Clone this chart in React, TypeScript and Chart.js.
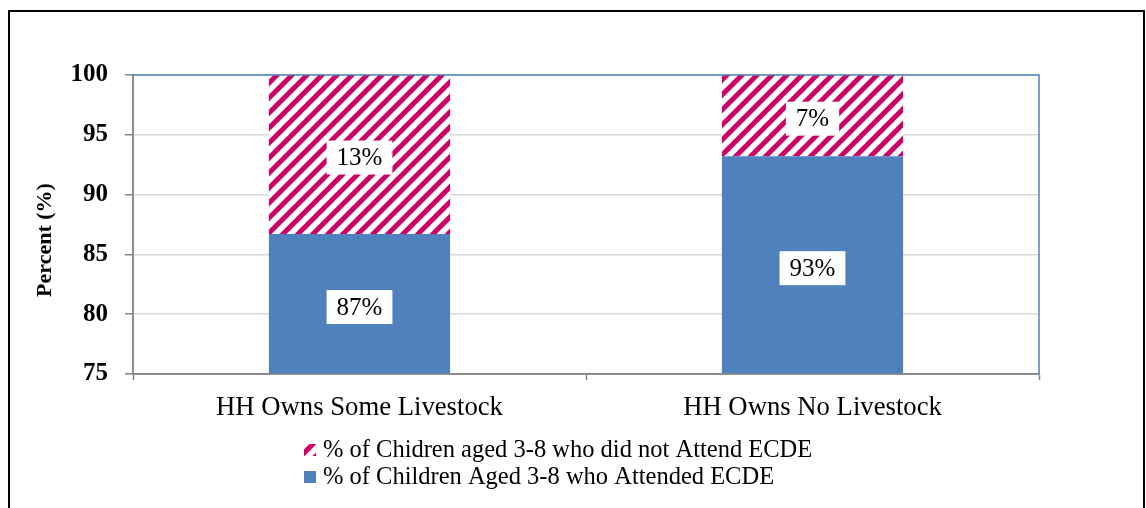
import React, { useEffect, useRef } from "react";
import { Chart, registerables } from "chart.js";

Chart.register(...registerables);

// ---- data ----
const categories = ["HH Owns Some Livestock", "HH Owns No Livestock"];
const attendedValues = [86.7, 93.2];
const notAttendedValues = [13.3, 6.8];
const attendedLabels = ["87%", "93%"];
const notAttendedLabels = ["13%", "7%"];
const attendedName = "% of Children Aged 3-8 who Attended ECDE";
const notAttendedName = "% of Chidren aged 3-8 who did not Attend ECDE";
const yTicks = [75, 80, 85, 90, 95, 100];
const yTitle = "Percent (%)";

const FONT = '"Liberation Serif", "Times New Roman", serif';
const BLUE = "#4F81BD";
const MAGENTA = "#CC0066";
const AXIS = "#868686";
const GRID = "#D9D9D9";

function makePattern(ctx: CanvasRenderingContext2D): CanvasPattern | string {
  const T = 15;
  const c = document.createElement("canvas");
  c.width = T;
  c.height = T;
  const p = c.getContext("2d");
  if (!p) return MAGENTA;
  p.fillStyle = "#FFFFFF";
  p.fillRect(0, 0, T, T);
  p.strokeStyle = MAGENTA;
  p.lineWidth = 5;
  p.lineCap = "square";
  for (const k of [-T, 0, T]) {
    p.beginPath();
    p.moveTo(k - 2, T + 2);
    p.lineTo(k + T + 2, -2);
    p.stroke();
  }
  return ctx.createPattern(c, "repeat") || MAGENTA;
}

export default function App() {
  const ref = useRef<HTMLCanvasElement | null>(null);

  useEffect(() => {
    const canvas = ref.current;
    if (!canvas) return;
    const ctx0 = canvas.getContext("2d");
    if (!ctx0) return;
    const pattern = makePattern(ctx0);
    const segLabels = [attendedLabels, notAttendedLabels];
    const legendItems = [
      { name: notAttendedName, fill: pattern },
      { name: attendedName, fill: BLUE },
    ];

    const overlay = {
      id: "overlay",
      afterDatasetsDraw(chart: any) {
        const { ctx, chartArea: a } = chart;
        ctx.save();
        // axis lines
        ctx.lineWidth = 1.5;
        ctx.strokeStyle = AXIS;
        ctx.beginPath();
        ctx.moveTo(a.left, a.top);
        ctx.lineTo(a.left, a.bottom);
        ctx.lineTo(a.right, a.bottom);
        ctx.stroke();
        // plot border (top / right)
        ctx.strokeStyle = BLUE;
        ctx.beginPath();
        ctx.moveTo(a.left, a.top);
        ctx.lineTo(a.right, a.top);
        ctx.lineTo(a.right, a.bottom);
        ctx.stroke();

        // value labels
        ctx.font = `25px ${FONT}`;
        ctx.textAlign = "center";
        ctx.textBaseline = "middle";
        chart.data.datasets.forEach((_ds: any, d: number) => {
          const meta = chart.getDatasetMeta(d);
          meta.data.forEach((el: any, i: number) => {
            const { x, y, base } = el.getProps(["x", "y", "base"], true);
            const t = Math.max(Math.min(y, base), a.top);
            const b = Math.min(Math.max(y, base), a.bottom);
            const cy = (t + b) / 2 + 3;
            const txt = segLabels[d][i];
            const w = ctx.measureText(txt).width + 20;
            const h = 34;
            ctx.fillStyle = "#FFFFFF";
            ctx.fillRect(x - w / 2, cy - h / 2, w, h);
            ctx.fillStyle = "#000000";
            ctx.fillText(txt, x, cy + 1);
          });
        });
        ctx.restore();
      },
      afterDraw(chart: any) {
        const { ctx } = chart;
        ctx.save();
        // y axis title
        ctx.save();
        ctx.translate(35, 228);
        ctx.rotate(-Math.PI / 2);
        ctx.font = `bold 22px ${FONT}`;
        ctx.fillStyle = "#000000";
        ctx.textAlign = "center";
        ctx.textBaseline = "middle";
        ctx.fillText(yTitle, 0, 0);
        ctx.restore();

        // legend
        const iconX = 294;
        const textX = 313;
        const rows = [438, 465];
        ctx.font = `24.5px ${FONT}`;
        ctx.textAlign = "left";
        ctx.textBaseline = "middle";
        legendItems.forEach((it, k) => {
          const cy = rows[k];
          ctx.fillStyle = it.fill;
          ctx.fillRect(iconX, cy - 6, 12, 12);
          ctx.fillStyle = "#000000";
          ctx.fillText(it.name, textX, cy + 1);
        });
        ctx.restore();
      },
    };

    const chart = new Chart(canvas, {
      type: "bar",
      data: {
        labels: categories,
        datasets: [
          {
            label: attendedName,
            data: attendedValues,
            backgroundColor: BLUE,
            borderWidth: 0,
          },
          {
            label: notAttendedName,
            data: notAttendedValues,
            backgroundColor: pattern as any,
            borderWidth: 0,
          },
        ],
      },
      options: {
        responsive: false,
        animation: false,
        devicePixelRatio: 1,
        layout: { padding: { left: 0, top: 63, right: 104, bottom: 79 } },
        datasets: {
          bar: { categoryPercentage: 1, barPercentage: 0.4 },
        },
        plugins: {
          legend: { display: false },
          tooltip: { enabled: false },
        },
        scales: {
          x: {
            stacked: true,
            offset: true,
            grid: {
              offset: true,
              drawOnChartArea: false,
              drawTicks: true,
              tickLength: 6,
              tickColor: AXIS,
              tickWidth: 1.5,
            },
            border: { color: AXIS, width: 1.5 },
            ticks: {
              color: "#000",
              padding: 12,
              font: { family: FONT, size: 26.7 },
            },
            afterFit: (s: any) => {
              s.height = 47;
            },
          },
          y: {
            stacked: true,
            min: 75,
            max: 100,
            afterBuildTicks: (s: any) => {
              s.ticks = yTicks.map((v) => ({ value: v }));
            },
            grid: {
              color: GRID,
              lineWidth: 1.5,
              tickLength: 8,
              tickColor: AXIS,
              tickWidth: 1.5,
            },
            border: { color: AXIS, width: 1.5 },
            ticks: {
              color: "#000",
              padding: 17,
              font: { family: FONT, size: 25, weight: "bold" },
            },
            title: { display: false, text: yTitle },
            afterFit: (s: any) => {
              s.width = 123;
            },
          },
        },
      },
      plugins: [overlay],
    } as any);

    return () => {
      chart.destroy();
    };
  }, []);

  return (
    <div
      style={{
        position: "fixed",
        left: 8,
        top: 10,
        width: 1137,
        height: 520,
        boxSizing: "border-box",
        border: "2px solid #000",
        background: "#fff",
      }}
    >
      <canvas ref={ref} width={1133} height={488} style={{ display: "block" }} />
    </div>
  );
}
